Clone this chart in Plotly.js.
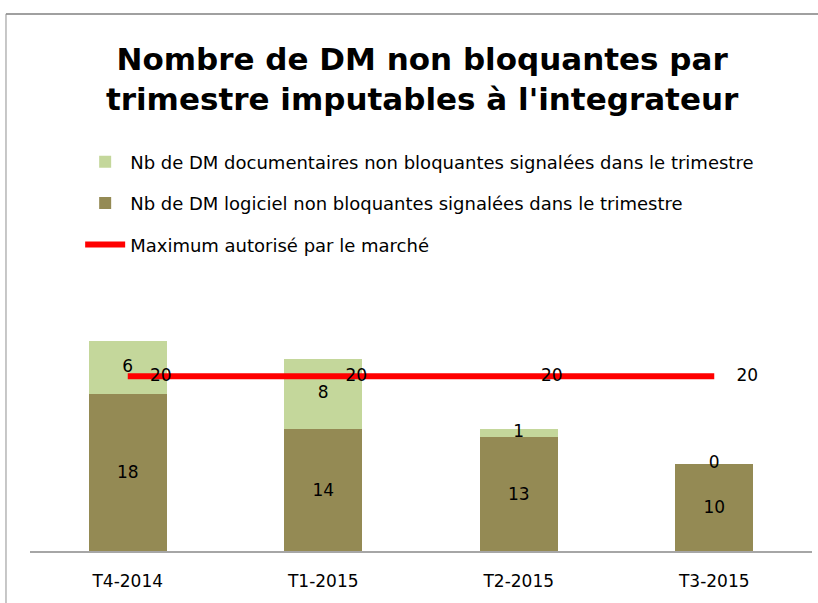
<!DOCTYPE html>
<html>
<head>
<meta charset="utf-8">
<script src="https://cdn.plot.ly/plotly-3.0.1.min.js"></script>
<style>html,body{margin:0;padding:0;background:#fff}#chart{width:818px;height:603px}</style>
</head>
<body>
<div id="chart"></div>
<script>
const categories = ["T4-2014", "T1-2015", "T2-2015", "T3-2015"];
const logiciel = [18, 14, 13, 10];
const documentaires = [6, 8, 1, 0];
const maximum = [20, 20, 20, 20];

const nameDoc = "Nb de DM documentaires non bloquantes signalées dans le trimestre";
const nameLog = "Nb de DM logiciel non bloquantes signalées dans le trimestre";
const nameMax = "Maximum autorisé par le marché";

const FONT = "DejaVu Sans, Liberation Sans, sans-serif";

const docLabelY = logiciel.map((v, i) => v + documentaires[i] / 2);

const traces = [
  {
    type: "bar", x: categories, y: logiciel, name: nameLog,
    marker: {color: "#948A54"},
    text: logiciel.map(String), textposition: "inside", insidetextanchor: "middle",
    constraintext: "none", textfont: {family: FONT, size: 17, color: "#000"},
    legendgroup: "g2", legendrank: 2, hoverinfo: "skip"
  },
  {
    type: "bar", x: categories, y: documentaires, name: nameDoc,
    marker: {color: "#C4D79B"},
    textposition: "none",
    legendgroup: "g1", legendrank: 1, hoverinfo: "skip"
  },
  {
    type: "scatter", mode: "lines+markers+text", x: categories, y: maximum, name: nameMax,
    line: {color: "#FF0000", width: 6},
    marker: {size: 34, color: "rgba(0,0,0,0)"},
    text: maximum.map(String), textposition: "middle right",
    textfont: {family: FONT, size: 17, color: "#000"},
    legendgroup: "g3", legendrank: 3, hoverinfo: "skip"
  },
  {
    type: "scatter", mode: "text", x: categories, y: docLabelY,
    text: documentaires.map(String), textposition: "middle center",
    textfont: {family: FONT, size: 17, color: "#000"},
    showlegend: false, hoverinfo: "skip"
  }
];

const layout = {
  width: 818, height: 603,
  margin: {l: 30, r: 6, t: 289, b: 52, autoexpand: false},
  paper_bgcolor: "#fff", plot_bgcolor: "#fff",
  barmode: "stack", bargap: 0.6,
  showlegend: true,
  font: {family: FONT, color: "#000"},
  title: {
    text: "<b>Nombre de DM non bloquantes par<br>trimestre imputables à l'integrateur</b>",
    font: {family: FONT, size: 31, color: "#000"},
    x: 0.516, xanchor: "center", xref: "container",
    y: 0.884, yanchor: "middle", yref: "container"
  },
  legend: {
    x: 0.098, xanchor: "left", xref: "container",
    y: 0.762, yanchor: "top", yref: "container",
    traceorder: "grouped", tracegroupgap: 15,
    font: {family: FONT, size: 18, color: "#000"},
    itemwidth: 40, bgcolor: "rgba(0,0,0,0)"
  },
  xaxis: {
    type: "category", showgrid: false, zeroline: false,
    showline: true, linecolor: "#A6A6A6", linewidth: 2,
    ticks: "", ticklabelstandoff: 14, tickangle: 0,
    tickfont: {family: FONT, size: 17, color: "#000"},
    fixedrange: true
  },
  yaxis: {
    range: [0, 30], visible: false, showgrid: false, zeroline: false, fixedrange: true
  },
  shapes: [
    {type: "line", xref: "paper", yref: "paper", x0: -0.0307, x1: 1.2, y0: 2.05, y1: 2.05,
     line: {color: "#A0A0A0", width: 2}},
    {type: "line", xref: "paper", yref: "paper", x0: -0.0307, x1: -0.0307, y0: 2.05, y1: -0.5,
     line: {color: "#909090", width: 1}}
  ]
};

Plotly.newPlot("chart", traces, layout, {displayModeBar: false, staticPlot: true});
</script>
</body>
</html>
